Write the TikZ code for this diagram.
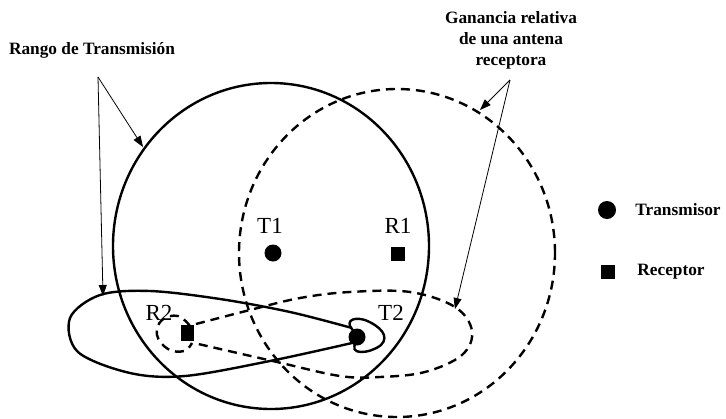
\documentclass[tikz,border=0pt]{standalone}
\usepackage{fontspec}
\setmainfont{Liberation Serif}
\usetikzlibrary{arrows.meta,positioning}

\begin{document}
\begin{tikzpicture}[x=1pt,y=-1pt,
tx/.style={circle,fill=black,inner sep=0pt,minimum size=17pt},
rx/.style={rectangle,fill=black,inner sep=0pt,minimum width=14pt,minimum height=14pt},
lbl/.style={font=\fontsize{23}{23}\selectfont,inner sep=0pt},
note/.style={font=\bfseries\fontsize{17.3}{21}\selectfont,align=center,inner sep=0pt},
txline/.style={line width=2.4pt},
gain/.style={line width=2.4pt,dash pattern=on 9pt off 6pt},
ptr/.style={-{Triangle[length=11pt,width=8pt]},line width=0.8pt}
]
\useasboundingbox (0,0) rectangle (726,418);
\draw[txline] (271,246) ellipse (158pt and 163pt);
\draw[gain] (397,253) ellipse (158pt and 164pt);
\draw[txline] plot[smooth,tension=0.55] coordinates {(352,328) (290,312) (220,299) (150,291) (100,295) (70,318) (78,352) (130,373) (185,376) (270,361) (352,343)};
\draw[txline] (357,334) .. controls (342,322) and (352,316) .. (365,320) .. controls (380,326) and (390,336) .. (381,345) .. controls (370,354) and (346,356) .. (357,341);
\draw[gain] plot[smooth,tension=0.6] coordinates {(196,324) (250,310) (300,298) (350,292) (410,292) (455,307) (472,331) (462,355) (425,372) (380,377) (340,376) (277,362) (194,343)};
\draw[gain] plot[smooth,tension=0.7] coordinates {(190,326) (178,316) (162,320) (157,335) (168,349) (184,351) (192,343)};
\node[tx] (t1) at (273,253) {};
\node[rx] (r1) at (398,254) {};
\node[tx] (t2) at (357,337) {};
\node[rx,minimum width=13pt,minimum height=16pt] (r2) at (187,333) {};
\node[lbl] at (270,226) {T1};
\node[lbl] at (398,226) {R1};
\node[lbl] at (159,313) {R2};
\node[lbl] at (391,313) {T2};
\node[note] (rango) at (92,50) {Rango de Transmisión};
\node[note] (ganancia) at (511,40) {Ganancia relativa\\de una antena\\receptora};
\coordinate (rangoSrc) at (98,77);
\coordinate (rangoCirc) at (143,147);
\coordinate (rangoLobe) at (103,296);
\coordinate (ganSrc) at (510,80);
\coordinate (ganCirc) at (480,110);
\coordinate (ganLobe) at (455,309);
\draw[ptr] (rangoSrc) -- (rangoCirc);
\draw[ptr] (rangoSrc) -- (rangoLobe);
\draw[ptr] (ganSrc) -- (ganCirc);
\draw[ptr] (ganSrc) -- (ganLobe);
\node[tx,minimum size=18pt] (legTx) at (607,210) {};
\node[note,right=19pt of legTx] (legTxText) {Transmisor};
\node[rx] (legRx) at (608,272) {};
\node[note,right=22pt of legRx] (legRxText) {Receptor};
\end{tikzpicture}
\end{document}
